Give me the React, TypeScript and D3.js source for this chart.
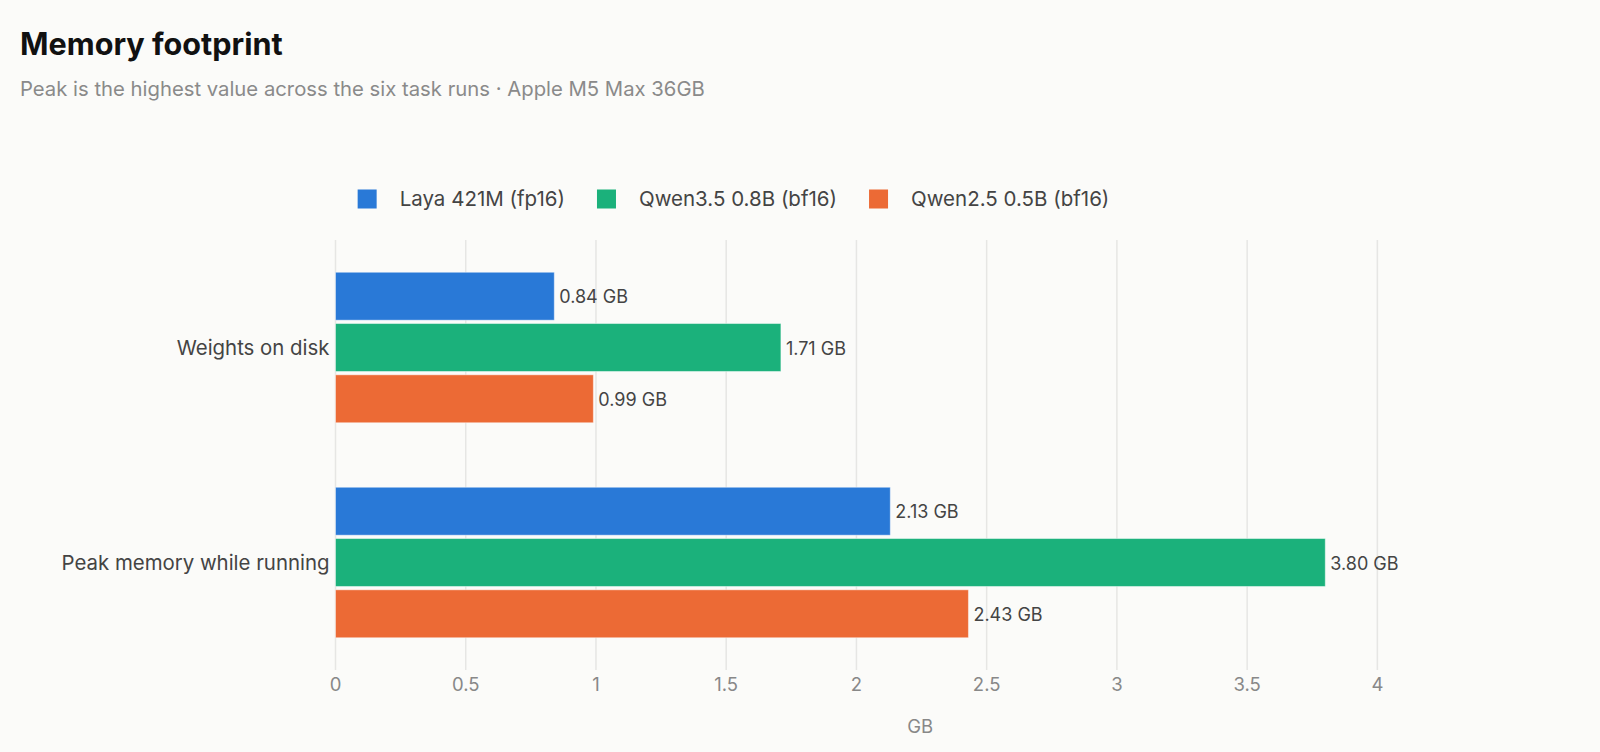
import * as d3 from "d3";
import { useEffect, useRef } from "react";

// ---- data ----
const categories = ["Weights on disk", "Peak memory while running"];
const seriesNames = ["Laya 421M (fp16)", "Qwen3.5 0.8B (bf16)", "Qwen2.5 0.5B (bf16)"];
const seriesColors = ["#2979d7", "#1bb17b", "#ec6a35"];
const laya = [0.84, 2.13];
const qwen35 = [1.71, 3.8];
const qwen25 = [0.99, 2.43];
const xTicks = [0, 0.5, 1, 1.5, 2, 2.5, 3, 3.5, 4];

const W = 1600;
const H = 752;
const FONT = "Inter, 'Noto Sans', sans-serif";

export default function App() {
  const ref = useRef<SVGSVGElement>(null);

  useEffect(() => {
    if (!ref.current) return;
    const svg = d3.select(ref.current);
    svg.selectAll("*").remove();

    const margin = { top: 240, right: 95, bottom: 82, left: 335.5 };
    const plotBottom = H - margin.bottom;
    const plotRight = W - margin.right;

    svg.append("rect").attr("width", W).attr("height", H).attr("fill", "#fbfbf9");

    // title + subtitle
    svg.append("text")
      .attr("x", 20).attr("y", 55)
      .style("font-family", FONT).style("font-size", "30.6px").style("font-weight", 700)
      .attr("fill", "#111").text("Memory footprint");
    svg.append("text")
      .attr("x", 20).attr("y", 96)
      .style("font-family", FONT).style("font-size", "20.3px")
      .attr("fill", "#8a8a8a")
      .text("Peak is the highest value across the six task runs · Apple M5 Max 36GB");

    const rows = categories.map((c, i) => ({
      category: c,
      values: [laya[i], qwen35[i], qwen25[i]],
    }));

    const x = d3.scaleLinear().domain([0, 4.49]).range([margin.left, plotRight]);
    const y0 = d3.scaleBand<string>()
      .domain(categories)
      .range([margin.top, plotBottom])
      .paddingInner(0.3)
      .paddingOuter(0.15);
    const y1 = d3.scaleBand<string>()
      .domain(seriesNames)
      .range([0, y0.bandwidth()])
      .paddingInner(0.065);
    const color = d3.scaleOrdinal<string, string>().domain(seriesNames).range(seriesColors);

    // grid
    svg.append("g")
      .selectAll("line")
      .data(xTicks)
      .join("line")
      .attr("x1", (d) => x(d)).attr("x2", (d) => x(d))
      .attr("y1", margin.top).attr("y2", plotBottom)
      .attr("stroke", "#e6e6e4").attr("stroke-width", 1.5);

    // tick labels
    svg.append("g")
      .selectAll("text")
      .data(xTicks)
      .join("text")
      .attr("x", (d) => x(d)).attr("y", plotBottom + 21)
      .attr("text-anchor", "middle")
      .style("font-family", FONT).style("font-size", "18.5px")
      .attr("fill", "#888")
      .text((d) => d3.format("~g")(d));

    svg.append("text")
      .attr("x", (margin.left + plotRight) / 2).attr("y", plotBottom + 63)
      .attr("text-anchor", "middle")
      .style("font-family", FONT).style("font-size", "18.5px")
      .attr("fill", "#888").text("GB");

    // category labels
    svg.append("g")
      .selectAll("text")
      .data(categories)
      .join("text")
      .attr("x", margin.left - 6)
      .attr("y", (d) => y0(d)! + y0.bandwidth() / 2)
      .attr("dy", "0.35em")
      .attr("text-anchor", "end")
      .style("font-family", FONT).style("font-size", "20.4px")
      .attr("fill", "#444")
      .text((d) => d);

    // bars
    const groups = svg.append("g")
      .selectAll("g")
      .data(rows)
      .join("g")
      .attr("transform", (d) => `translate(0,${y0(d.category)})`);

    const cells = (r: { values: number[] }) =>
      seriesNames.map((s, i) => ({ series: s, value: r.values[i] }));

    groups.selectAll("rect")
      .data((d) => cells(d))
      .join("rect")
      .attr("x", x(0))
      .attr("y", (d) => y1(d.series)!)
      .attr("width", (d) => x(d.value) - x(0))
      .attr("height", y1.bandwidth())
      .attr("fill", (d) => color(d.series))
      .attr("stroke", "rgba(255,255,255,0.45)")
      .attr("stroke-width", 1);

    groups.selectAll("text")
      .data((d) => cells(d))
      .join("text")
      .attr("x", (d) => x(d.value) + 5)
      .attr("y", (d) => y1(d.series)! + y1.bandwidth() / 2)
      .attr("dy", "0.4em")
      .style("font-family", FONT).style("font-size", "18px")
      .attr("fill", "#444")
      .text((d) => `${d.value.toFixed(2)} GB`);

    // legend
    const legend = svg.append("g");
    const box = 19;
    const gapText = 23;
    const gapItem = 32;
    const items = legend.selectAll("g")
      .data(seriesNames)
      .join("g");
    items.append("rect")
      .attr("width", box).attr("height", box)
      .attr("y", -box / 2)
      .attr("fill", (d) => color(d));
    const texts = items.append("text")
      .attr("x", box + gapText)
      .attr("dy", "0.35em")
      .style("font-family", FONT).style("font-size", "20.5px")
      .attr("fill", "#444")
      .text((d) => d);
    const widths: number[] = [];
    texts.each(function () {
      widths.push((this as SVGTextElement).getComputedTextLength());
    });
    const total = d3.sum(widths, (w) => box + gapText + w) + gapItem * (widths.length - 1);
    let cx = 733.5 - total / 2;
    items.attr("transform", (_d, i) => {
      const t = `translate(${cx},199)`;
      cx += box + gapText + widths[i] + gapItem;
      return t;
    });
  }, []);

  return (
    <svg
      ref={ref}
      width={W}
      height={H}
      style={{ position: "absolute", left: 0, top: 0, display: "block" }}
    />
  );
}
